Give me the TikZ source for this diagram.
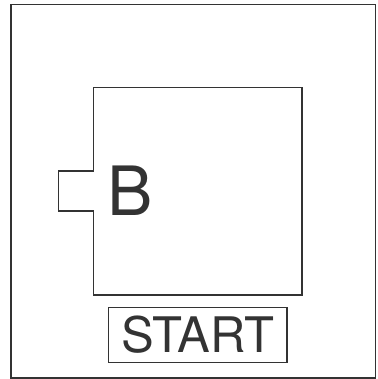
\documentclass[tikz,border=0pt]{standalone}
\usepackage{fontspec}
\setmainfont{TeX Gyre Heros}
\usetikzlibrary{calc}
\tikzset{
	frameline/.style={line width=1.6pt, color=black!80},
	boardline/.style={line width=1.4pt, color=black!80},
	bigletter/.style={inner sep=0pt, color=black!80, font=\fontsize{68}{68}\selectfont},
	startbox/.style={draw, line width=1.4pt, color=black!80, text=black!80, inner sep=0pt,
		minimum width=178.5pt, minimum height=55pt, font=\fontsize{49}{49}\selectfont}
}

\begin{document}
\begin{tikzpicture}[x=1pt, y=-1pt]
			%%%%% START %%%%%
			\useasboundingbox (0, 0) rectangle (377, 379);
			
			\draw[frameline] (11, 4.5) rectangle (375.5, 378);
			
			\draw[boardline] (93.5, 87.5) -- (302, 87.5) -- (302, 295) -- (93.5, 295)
				-- (93.5, 211) -- (58.7, 211) -- (58.7, 171) -- (93.5, 171) -- cycle;
			
			\node[bigletter] (letterB) at (130.5, 190.5) {B};
			
			\node[startbox] (start) at (197.75, 335) {START};
			
			%%%%% END %%%%%
		\end{tikzpicture}
\end{document}
